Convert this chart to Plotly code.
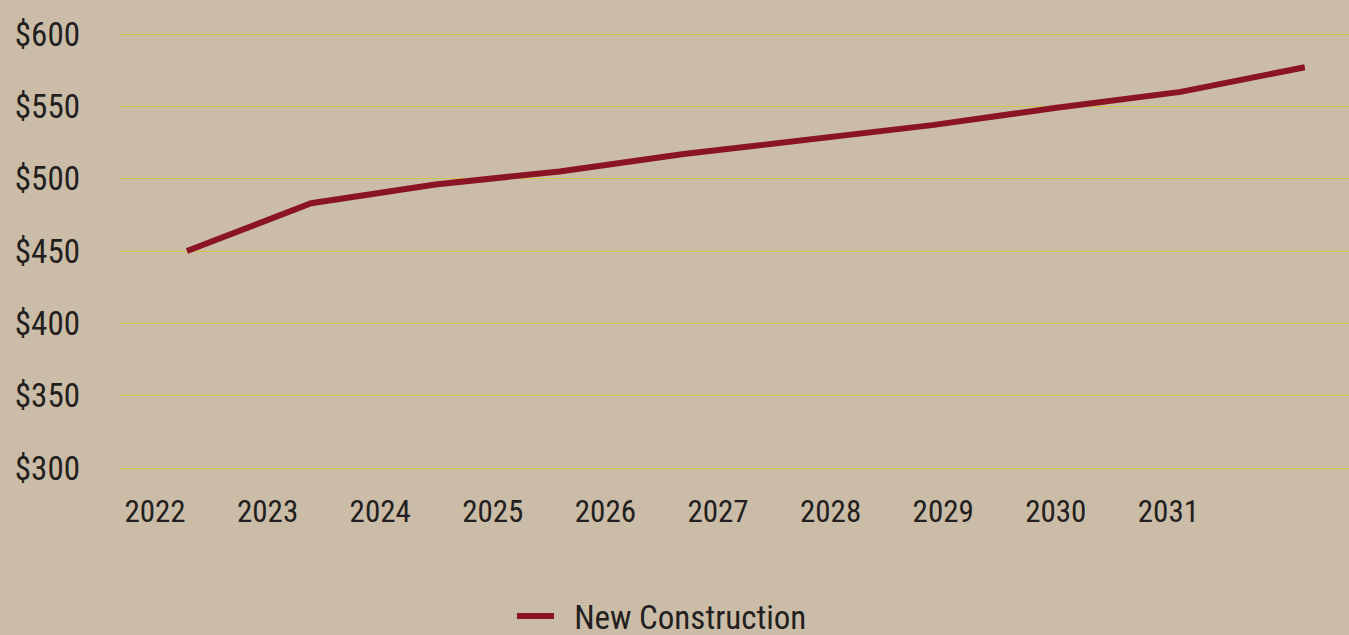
import plotly.graph_objects as go

years = [2022, 2023, 2024, 2025, 2026, 2027, 2028, 2029, 2030, 2031]
new_construction = [450, 483, 496, 505, 517, 527, 537, 549, 560, 577]
y_ticks = [300, 350, 400, 450, 500, 550, 600]
series_name = "New Construction"

BG = "#CBBCA7"
GRID = "#CFC24A"
LINE = "#8B1424"
TXT = "#231F20"
FONT = "Roboto Condensed, Liberation Sans Narrow, sans-serif"

fig = go.Figure()
# the series, drawn on the main x axis
fig.add_trace(go.Scatter(
    x=years, y=new_construction, mode="lines",
    name="\u00a0\u00a0" + series_name,
    line=dict(color=LINE, width=6), xaxis="x", yaxis="y",
))
# empty helper trace so the year label axis is drawn
fig.add_trace(go.Scatter(
    x=years, y=[None] * len(years), mode="lines", showlegend=False,
    hoverinfo="skip", xaxis="x2", yaxis="y",
))

fig.update_layout(
    width=1349, height=635,
    paper_bgcolor=BG, plot_bgcolor=BG,
    margin=dict(l=120, r=0, t=32, b=165, autoexpand=False),
    font=dict(family=FONT, size=31, color=TXT),
    showlegend=True,
    legend=dict(orientation="h", xref="paper", yref="paper",
                x=0.441, xanchor="center", y=-0.3335, yanchor="middle",
                itemwidth=37,
                font=dict(size=33, color=TXT), bgcolor="rgba(0,0,0,0)"),
    xaxis=dict(range=[2021.461, 2031.356], visible=False),
    xaxis2=dict(range=[2021.689, 2032.604], overlaying="x", side="bottom",
                anchor="y", tickvals=years, ticktext=[str(v) for v in years],
                showgrid=False, zeroline=False, showline=False, ticks="",
                ticklabelstandoff=20, tickfont=dict(size=31, color=TXT)),
    yaxis=dict(range=[298.6175, 601.3825], tickvals=y_ticks,
               ticktext=[f"${v}" for v in y_ticks],
               showgrid=True, gridcolor=GRID, gridwidth=1, zeroline=False,
               showline=False, ticks="", ticklabelstandoff=39,
               tickfont=dict(size=33, color=TXT)),
)

fig.write_html("out.html")
